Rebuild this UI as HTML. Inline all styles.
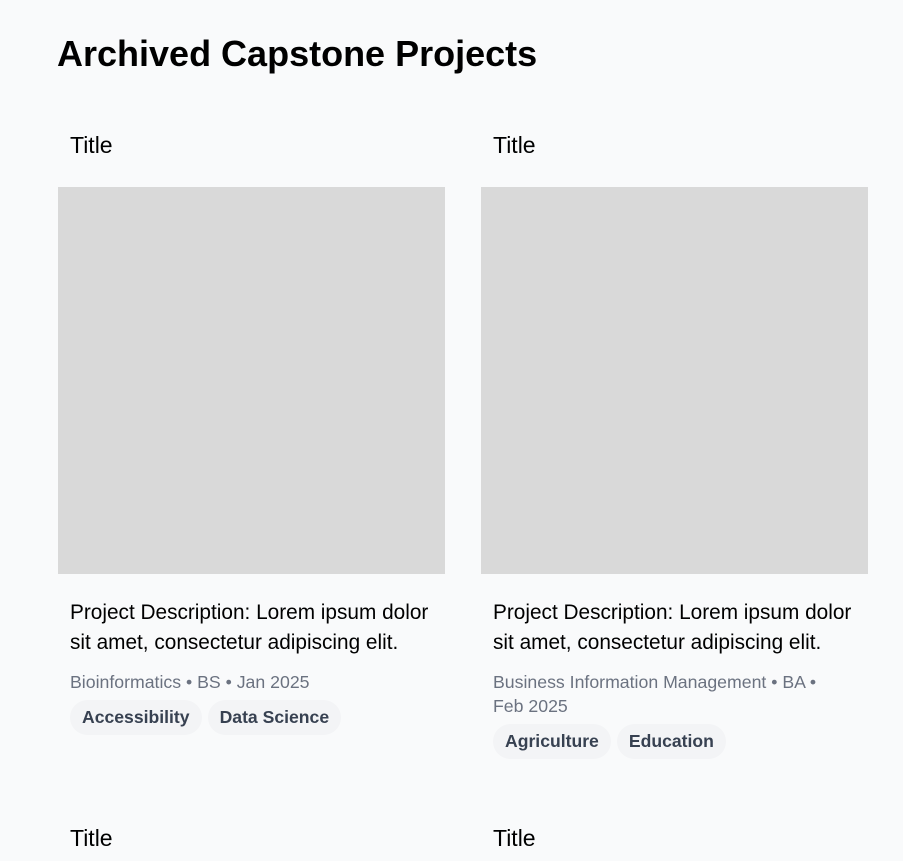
<!DOCTYPE html>
<html><head><style>
body{margin:0;background:#f9fafb;font-family:"Liberation Sans",Arial,sans-serif;width:903px;height:861px;overflow:hidden;position:relative}
.a{position:absolute}
h1{position:absolute;left:57px;top:33px;margin:0;font-size:36px;font-weight:bold;color:#000;line-height:42px}
.t{font-size:23px;color:#000;line-height:26px}
.img{background:#d9d9d9;width:387px;height:387px}
.d{font-size:20.8px;line-height:30px;color:#000;width:375px}
.m{font-size:17.7px;line-height:24px;color:#6b7280;width:350px}
.p{display:inline-block;background:#f3f4f6;border-radius:18px;padding:0 12px;height:35px;line-height:35px;font-weight:bold;font-size:17.6px;color:#374151;margin-right:6px}
</style></head><body>
<h1>Archived Capstone Projects</h1>
<div class="a t" style="left:70px;top:132px">Title</div>
<div class="a t" style="left:493px;top:132px">Title</div>
<div class="a img" style="left:58px;top:187px"></div>
<div class="a img" style="left:481px;top:187px"></div>
<div class="a d" style="left:70px;top:598px">Project Description: Lorem ipsum dolor sit amet, consectetur adipiscing elit.</div>
<div class="a d" style="left:493px;top:598px">Project Description: Lorem ipsum dolor sit amet, consectetur adipiscing elit.</div>
<div class="a m" style="left:70px;top:670px">Bioinformatics • BS • Jan 2025</div>
<div class="a m" style="left:493px;top:670px;width:345px">Business Information Management • BA • Feb 2025</div>
<div class="a" style="left:70px;top:700px"><span class="p">Accessibility</span><span class="p">Data Science</span></div>
<div class="a" style="left:493px;top:724px"><span class="p">Agriculture</span><span class="p">Education</span></div>
<div class="a t" style="left:70px;top:825px">Title</div>
<div class="a t" style="left:493px;top:825px">Title</div>
</body></html>
